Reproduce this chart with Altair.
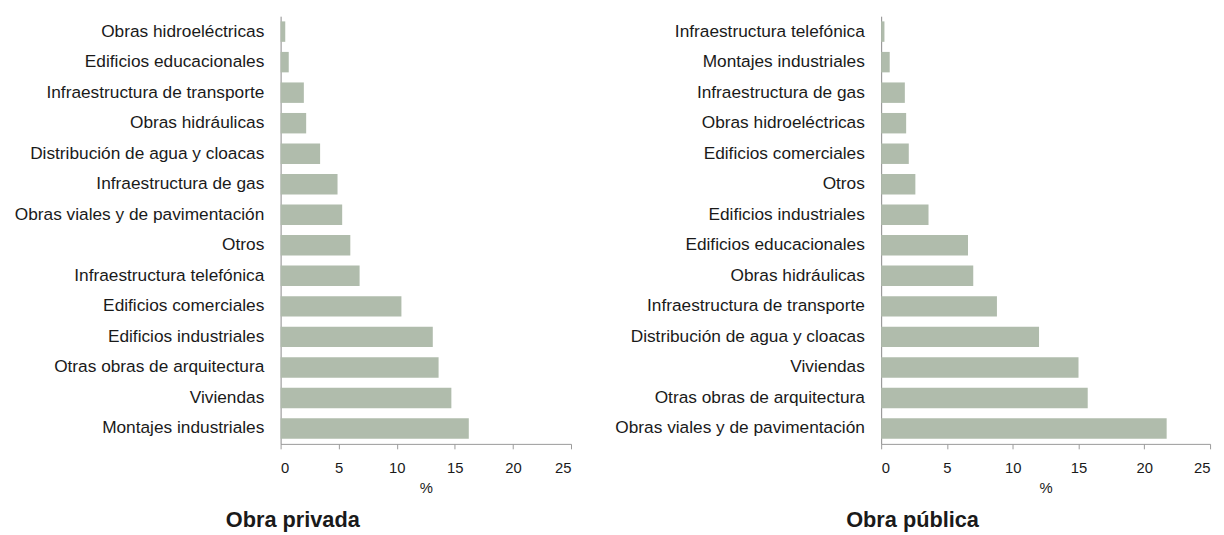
import altair as alt
import pandas as pd

priv_cats = [
    "Obras hidroeléctricas", "Edificios educacionales", "Infraestructura de transporte",
    "Obras hidráulicas", "Distribución de agua y cloacas", "Infraestructura de gas",
    "Obras viales y de pavimentación", "Otros", "Infraestructura telefónica",
    "Edificios comerciales", "Edificios industriales", "Otras obras de arquitectura",
    "Viviendas", "Montajes industriales",
]
priv_vals = [0.4, 0.7, 2.0, 2.2, 3.4, 4.9, 5.3, 6.0, 6.8, 10.4, 13.1, 13.6, 14.7, 16.2]

pub_cats = [
    "Infraestructura telefónica", "Montajes industriales", "Infraestructura de gas",
    "Obras hidroeléctricas", "Edificios comerciales", "Otros", "Edificios industriales",
    "Edificios educacionales", "Obras hidráulicas", "Infraestructura de transporte",
    "Distribución de agua y cloacas", "Viviendas", "Otras obras de arquitectura",
    "Obras viales y de pavimentación",
]
pub_vals = [0.25, 0.65, 1.8, 1.9, 2.1, 2.6, 3.6, 6.6, 7.0, 8.8, 12.0, 15.0, 15.7, 21.7]

x_ticks = [0, 5, 10, 15, 20, 25]

BAR = "#b0bcac"
FONT = "Liberation Sans"
TXT = "#1a1a1a"


def panel(cats, vals, title, width, height):
    df = pd.DataFrame({"cat": cats, "val": vals})
    return (
        alt.Chart(
            df,
            title=alt.TitleParams(
                title, orient="bottom", frame="bounds", anchor="middle",
                fontSize=22, fontWeight="bold", font=FONT, color=TXT, offset=15,
            ),
        )
        .mark_bar(color=BAR)
        .encode(
            x=alt.X(
                "val:Q",
                scale=alt.Scale(domain=[0, 25], nice=False),
                axis=alt.Axis(
                    values=x_ticks, title="%", grid=False, tickSize=5,
                    labelFontSize=15, titleFontSize=15, labelPadding=12, titlePadding=5,
                    domainColor="#999999", tickColor="#999999", labelFont=FONT,
                    titleFont=FONT, labelColor=TXT, titleColor=TXT,
                    titleFontWeight="normal",
                ),
            ),
            y=alt.Y(
                "cat:N",
                sort=cats,
                scale=alt.Scale(paddingInner=0.33, paddingOuter=0.17),
                axis=alt.Axis(
                    title=None, ticks=False, labelFontSize=17.5, labelPadding=17,
                    labelFont=FONT, domainColor="#888888", labelColor=TXT,
                    labelLimit=400,
                ),
            ),
        )
        .properties(width=width, height=height)
    )


left = panel(priv_cats, priv_vals, "Obra privada", 294, 433)
right = panel(pub_cats, pub_vals, "Obra pública", 333, 433)

chart = (
    alt.hconcat(left, right, spacing=43)
    .configure_view(stroke=None)
    .properties(background="white", padding={"left": 6, "top": 5, "right": 5, "bottom": 5})
)

chart.save("out.html", embed_options={"renderer": "svg", "actions": False})
